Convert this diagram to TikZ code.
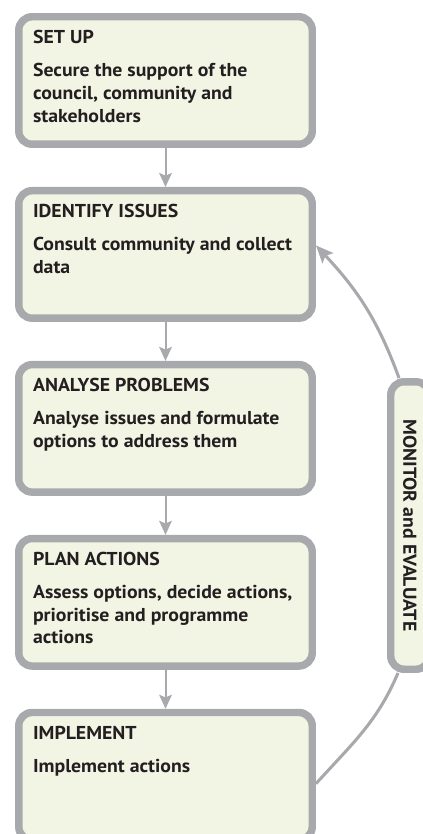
\documentclass[tikz,border=0pt]{standalone}
\usepackage{fontspec}
\setmainfont{PT Sans}[FakeStretch=1.06]
\usetikzlibrary{positioning,arrows.meta}

\definecolor{framegrey}{RGB}{167,169,172}
\definecolor{stagefill}{RGB}{243,245,228}
\definecolor{inkdark}{RGB}{35,31,32}

\newcommand{\stagefont}{\fontsize{14pt}{16.9pt}\selectfont\bfseries}
% title line, then the description, set from the top left of a box
\newcommand{\stagetext}[2]{%
  \begin{minipage}[c][95.6pt][t]{198.7pt}\raggedright\stagefont
  \rule{0pt}{20.4pt}#1\\[7.85pt]
  #2
  \end{minipage}}

\tikzset{
  stage/.style={draw=framegrey, fill=stagefill, line width=5.6pt, rounded corners=10pt,
    minimum width=220pt, minimum height=95.6pt, inner xsep=10.7pt, inner ysep=0pt, text=inkdark},
  flow/.style={draw=framegrey, line width=1.5pt, -{Stealth[length=10.5pt,width=9.5pt,inset=2pt]}},
  cycleline/.style={draw=framegrey, line width=2.3pt},
}

\begin{document}
\begin{tikzpicture}[x=0.75pt,y=0.75pt,node distance=29.25pt]
\useasboundingbox (0,0) rectangle (422,-834);
\node[stage] (setup) at (165.5,-80.5) {\stagetext{SET UP}{Secure the support of the\\council, community and\\stakeholders}};
\node[stage, below=of setup] (issues) {\stagetext{IDENTIFY ISSUES}{Consult community and collect\\data}};
\node[stage, below=of issues] (analyse) {\stagetext{ANALYSE PROBLEMS}{Analyse issues and formulate\\options to address them}};
\node[stage, below=of analyse] (plan) {\stagetext{PLAN ACTIONS}{Assess options, decide actions,\\prioritise and programme\\actions}};
\node[stage, below=of plan] (implement) {\stagetext{IMPLEMENT}{Implement actions}};
\node[stage, rotate=-90, minimum width=215.6pt, minimum height=28.9pt, inner sep=0pt, font=\stagefont] (monitor) at (410,-525.5) {MONITOR and EVALUATE};

\draw[flow] (setup) -- (issues);
\draw[flow] (issues) -- (analyse);
\draw[flow] (analyse) -- (plan);
\draw[flow] (plan) -- (implement);

% feedback loop round the right side
\draw[cycleline] ([yshift=-5.6pt]implement.east) to[out=48, in=247] ([xshift=-9pt]monitor.east);
\draw[cycleline, -{Stealth[length=13pt,width=11pt,inset=2.5pt]}] ([xshift=-8.25pt]monitor.west) to[out=110, in=-47] ([yshift=6.75pt]issues.east);
\end{tikzpicture}
\end{document}
